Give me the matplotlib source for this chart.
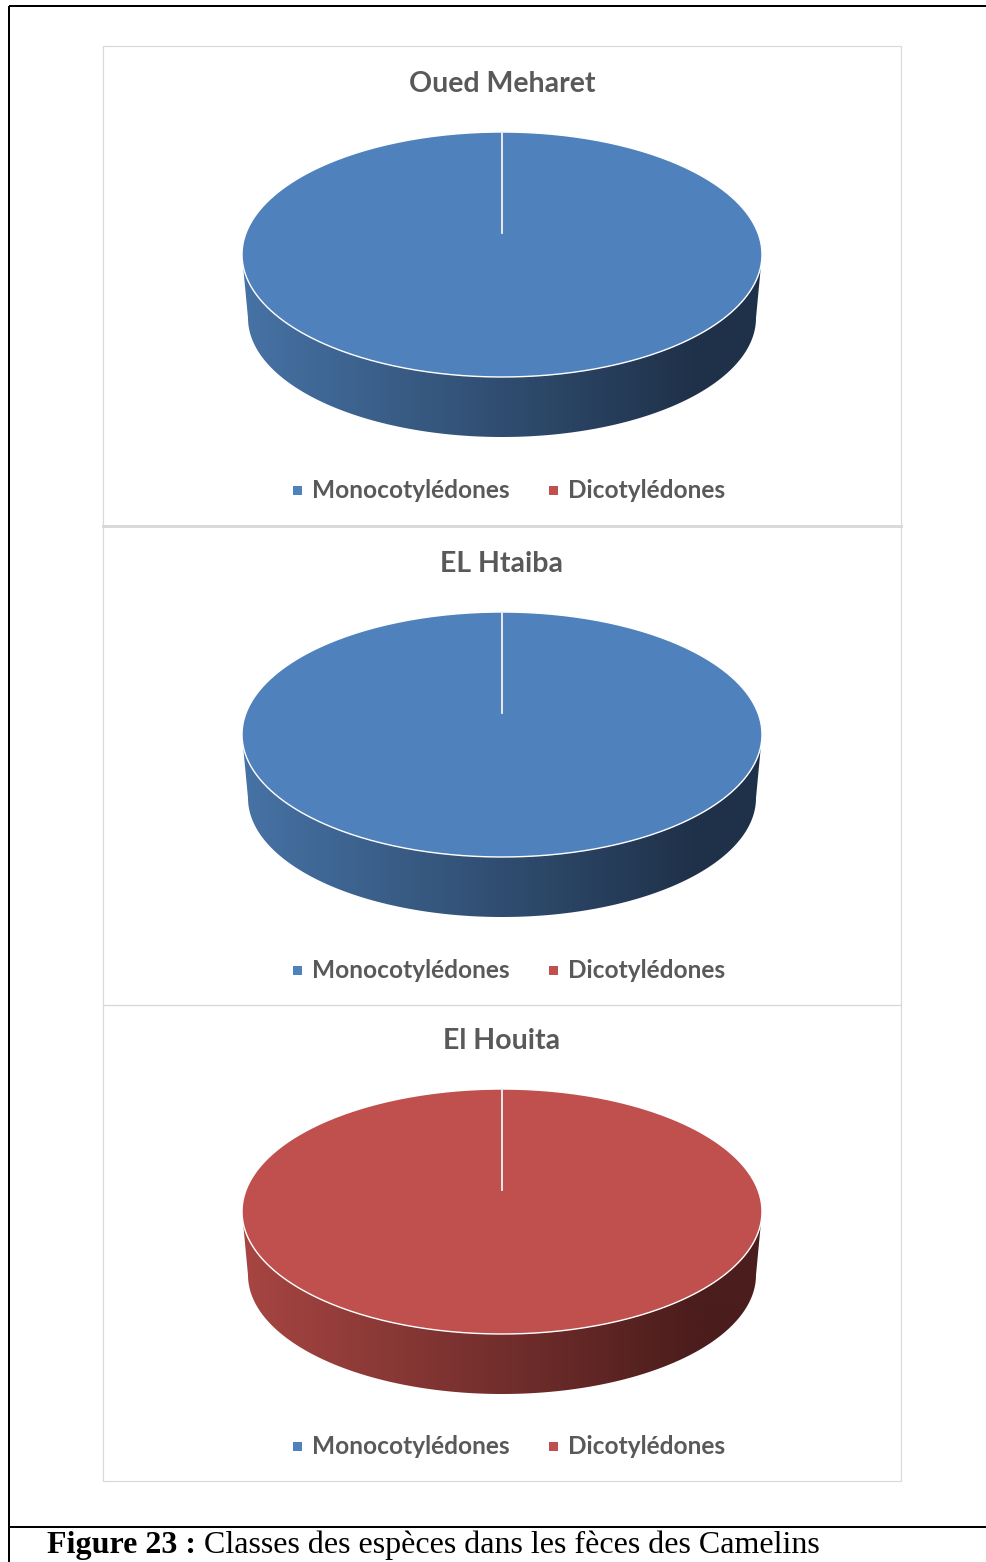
import numpy as np
import matplotlib
matplotlib.use("Agg")
import matplotlib.pyplot as plt
from matplotlib.patches import Polygon, Rectangle
from matplotlib.colors import to_rgb

# ---------------- data ----------------
sites = ["Oued Meharet", "EL Htaiba", "El Houita"]
categories = ["Monocotylédones", "Dicotylédones"]
mono_values = [100, 100, 0]
dico_values = [0, 0, 100]
top_colors = ["#4F81BD", "#C0504D"]
side_left_colors = ["#4672A4", "#A64542"]
side_right_colors = ["#1F3149", "#4B1D1C"]
caption_bold = "Figure 23 :"
caption_text = " Classes des espèces dans les fèces des Camelins"

# ---------------- layout (pixels) ----------------
W, H = 986, 1562
panel_x0, panel_x1 = 103, 901
panel_tops = [46, 526, 1005]
panel_bottoms = [526, 1005, 1481]
title_y = [84, 564, 1041]
ell_cy = [254.5, 734.5, 1211.5]
legend_y = [490, 970, 1446]
cx = 502
A, B = 260, 122.5
A2, B2 = 254, 119
DEPTH = 63.5
APEX_OFF = 22
TEXT_GRAY = "#595959"

fig = plt.figure(figsize=(W / 100, H / 100), dpi=100)
ax = fig.add_axes([0, 0, 1, 1])
ax.set_xlim(0, W)
ax.set_ylim(H, 0)
ax.axis("off")

PX = 72 / 100  # points per pixel


def fit_size(s, target_w, **kw):
    t = ax.text(0, 0, s, **kw)
    fig.canvas.draw()
    w = t.get_window_extent(fig.canvas.get_renderer()).width
    size = t.get_fontsize() * target_w / w
    t.remove()
    return size


# outer page borders
ax.plot([9, W], [6, 6], color="black", lw=2 * PX, solid_capstyle="butt")
ax.plot([9, 9], [6, H], color="black", lw=2 * PX, solid_capstyle="butt")
ax.plot([9, W], [1527, 1527], color="black", lw=2 * PX, solid_capstyle="butt")

title_font = dict(family="Lato", fontweight="bold", color=TEXT_GRAY)
title_size = fit_size(sites[0], 187, fontsize=20, **title_font)
legend_size = fit_size(categories[0], 198, fontsize=15, **title_font)


def ell(theta, cxx, cyy, a, b):
    th = np.radians(theta)
    return cxx + a * np.cos(th), cyy - b * np.sin(th)


def side_gradient(x, left, right, x0, x1):
    t = np.clip((x - x0) / (x1 - x0), 0, 1)[:, None]
    return (1 - t) * np.array(to_rgb(left)) + t * np.array(to_rgb(right))


for p, site in enumerate(sites):
    # panel frame
    ax.add_patch(Rectangle((panel_x0, panel_tops[p]), panel_x1 - panel_x0,
                           panel_bottoms[p] - panel_tops[p], fill=False,
                           edgecolor="#D9D9D9", lw=1.2 * PX, zorder=1))
    # title
    ax.text(cx, title_y[p], site, ha="center", va="center",
            fontsize=title_size, **title_font)

    vals = np.array([mono_values[p], dico_values[p]], dtype=float)
    frac = vals / vals.sum()
    cum = np.concatenate([[0], np.cumsum(frac)])
    cy = ell_cy[p]
    cy2 = cy + DEPTH
    apex = (cx, cy - APEX_OFF)

    # sides first
    for i, f in enumerate(frac):
        if f <= 0:
            continue
        t0 = 90 - 360 * cum[i]
        t1 = 90 - 360 * cum[i + 1]
        for k in range(-2, 3):
            lo = max(t1, -180 + 360 * k)
            hi = min(t0, 0 + 360 * k)
            if hi <= lo:
                continue
            th = np.linspace(lo, hi, 200)
            xt, yt = ell(th, cx, cy, A, B)
            xb, yb = ell(th[::-1], cx, cy2, A2, B2)
            poly = Polygon(np.column_stack([np.r_[xt, xb], np.r_[yt, yb]]),
                           closed=True, facecolor="none", edgecolor="none")
            ax.add_patch(poly)
            xs = np.linspace(cx - A, cx + A, 400)
            grad = side_gradient(xs, side_left_colors[i], side_right_colors[i],
                                 cx - A + 5, cx + 195)[None, :, :]
            im = ax.imshow(grad, extent=(cx - A, cx + A, cy2 + B2 + 2, cy - 5),
                           aspect="auto", zorder=2, interpolation="bilinear")
            im.set_clip_path(poly)

    # top faces
    for i, f in enumerate(frac):
        if f <= 0:
            continue
        t0 = 90 - 360 * cum[i]
        t1 = 90 - 360 * cum[i + 1]
        th = np.linspace(t0, t1, 400)
        xe, ye = ell(th, cx, cy, A, B)
        pts = np.column_stack([np.r_[apex[0], xe], np.r_[apex[1], ye]])
        ax.add_patch(Polygon(pts, closed=True, facecolor=top_colors[i],
                             edgecolor="none", zorder=3))
        ax.plot(xe, ye, color="white", lw=1.4 * PX, zorder=4)
        for tt in (t0, t1):
            ex, ey = ell(tt, cx, cy, A, B)
            ax.plot([apex[0], ex], [apex[1], ey], color="#EDEDED",
                    lw=1.6 * PX, zorder=4)

    # legend
    mx = [297, 553.5]
    for j, cat in enumerate(categories):
        ax.add_patch(Rectangle((mx[j] - 4.5, legend_y[p] - 4.5), 9, 9,
                               facecolor=top_colors[j], edgecolor="none", zorder=3))
        ax.text(mx[j] + 15, legend_y[p], cat, ha="left", va="center",
                fontsize=legend_size, **title_font)

# thicker separator between first and second panels
ax.plot([panel_x0, panel_x1], [526, 526], color="#D9D9D9", lw=3 * PX, zorder=1)

ax.set_xlim(0, W)
ax.set_ylim(H, 0)

# caption
cap_font = dict(family="Liberation Serif", color="black")
cap_size = fit_size(caption_bold + caption_text, 764, fontsize=21, **cap_font)
tb = ax.text(47, 1553, caption_bold, ha="left", va="baseline",
             fontsize=cap_size, fontweight="bold", **cap_font)
fig.canvas.draw()
bb = tb.get_window_extent(fig.canvas.get_renderer())
ax.text(bb.x1, 1553, caption_text, ha="left", va="baseline",
        fontsize=cap_size, **cap_font)

fig.savefig("out.png", dpi=100, facecolor="white")
